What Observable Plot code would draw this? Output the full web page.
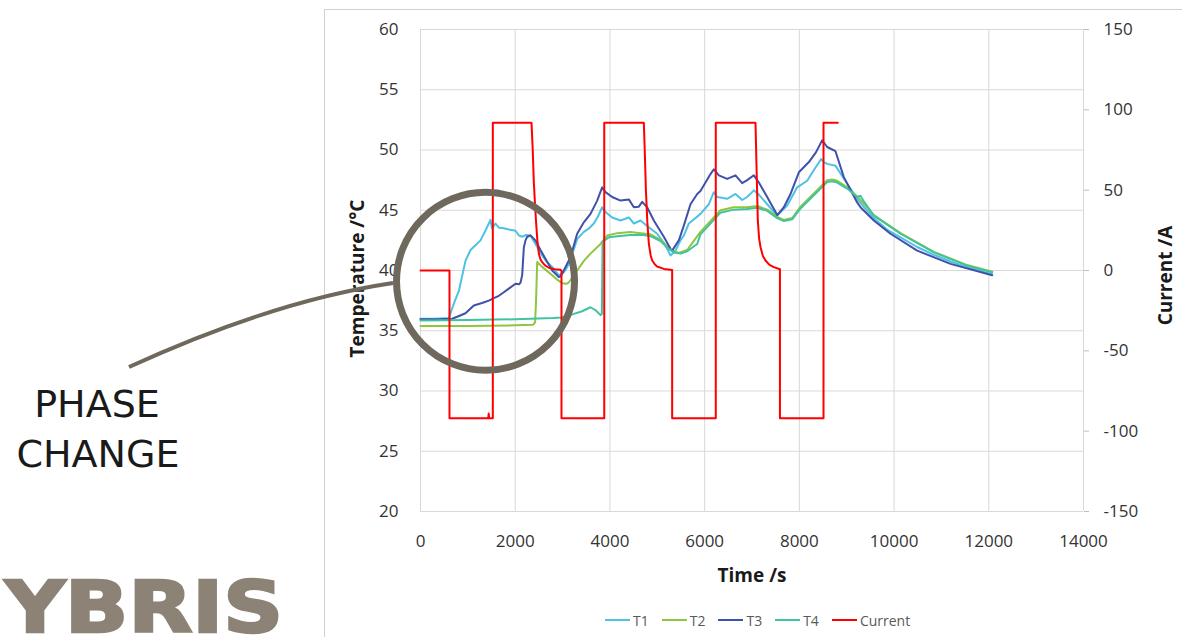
<!DOCTYPE html>
<html><head><meta charset="utf-8">
<script src="https://cdn.jsdelivr.net/npm/d3@7"></script>
<script src="https://cdn.jsdelivr.net/npm/@observablehq/plot@0.6"></script>
<style>
body{margin:0;background:#fff;}
#wrap{position:relative;width:1182px;height:637px;overflow:hidden;font-family:"Open Sans",sans-serif;background:#fff;}
#chart{position:absolute;left:0;top:0;}
#legend{position:absolute;left:605px;top:610px;height:20px;display:flex;align-items:center;font-size:14px;color:#595959;font-family:"Open Sans",sans-serif;}
.item{display:flex;align-items:center;margin-right:13px;}
.sw{width:25px;height:2.5px;margin-right:3px;}
#over{position:absolute;left:0;top:0;pointer-events:none;}
</style></head>
<body><div id="wrap"><div id="chart"></div><div id="legend"></div><svg id="over" width="1182" height="637"></svg></div>
<script>
// ---- data (time s, temperature °C) ----
const T1 = [[0,36.0],[300,36.0],[598,36.05],[700,37.2],[810,38.3],[950,40.8],[1056,41.7],[1160,42.1],[1267,42.5],[1370,43.3],[1478,44.2],[1510,43.5],[1548,43.7],[1584,43.9],[1654,43.55],[1760,43.5],[1865,43.4],[2006,43.3],[2080,42.9],[2147,42.8],[2230,42.95],[2323,42.9],[2428,42.2],[2569,41.25],[2670,40.7],[2781,40.3],[2921,39.6],[3026,39.85],[3100,40.3],[3167,40.8],[3240,41.8],[3308,42.6],[3449,43.2],[3560,43.5],[3660,43.9],[3750,44.5],[3836,45.25],[3906,44.85],[4048,44.4],[4223,44.15],[4399,44.4],[4505,43.9],[4646,44.15],[4786,43.7],[4998,43.05],[5173,42.1],[5279,41.25],[5385,41.65],[5490,42.5],[5560,42.9],[5666,43.9],[5912,44.7],[6089,45.5],[6194,46.5],[6265,46.1],[6476,45.95],[6652,46.35],[6793,45.85],[6898,46.1],[7039,46.65],[7145,46.3],[7321,45.5],[7532,44.55],[7743,45.4],[7954,46.9],[8166,47.45],[8300,48.3],[8460,49.25],[8517,49.0],[8587,48.85],[8763,48.7],[9010,47.2],[9221,45.95],[9400,45.1],[9573,44.35],[9850,43.4],[10136,42.75],[10488,41.95],[10840,41.3],[11192,40.75],[11544,40.25],[12072,39.7]];
const T2 = [[0,35.4],[1000,35.4],[2000,35.45],[2380,35.5],[2420,35.7],[2440,37.5],[2464,40.7],[2569,40.3],[2781,39.6],[2900,39.2],[2992,38.95],[3080,38.9],[3131,39.0],[3308,40.0],[3450,40.8],[3590,41.4],[3801,42.2],[3942,42.9],[4153,43.1],[4434,43.2],[4646,43.1],[4857,43.0],[5068,42.55],[5279,41.7],[5455,41.45],[5631,41.7],[5760,42.4],[5912,43.2],[6194,44.4],[6335,45.0],[6616,45.25],[6898,45.25],[7110,45.35],[7321,45.05],[7532,44.45],[7673,44.2],[7849,44.35],[8024,45.3],[8306,46.4],[8587,47.5],[8693,47.55],[8799,47.45],[9010,46.9],[9221,46.15],[9573,44.6],[10136,43.1],[10840,41.55],[11544,40.45],[12072,39.9]];
const T3 = [[0,35.95],[400,35.95],[669,36.0],[800,36.2],[950,36.45],[1126,37.1],[1300,37.3],[1443,37.5],[1548,37.7],[1654,37.9],[1760,38.2],[1865,38.5],[2006,38.9],[2080,38.85],[2112,39.0],[2147,39.6],[2182,41.9],[2217,42.5],[2253,42.8],[2323,42.9],[2428,42.5],[2534,41.7],[2650,40.9],[2781,40.0],[2921,39.45],[2956,39.5],[3026,40.0],[3167,41.1],[3308,43.05],[3449,44.0],[3590,44.7],[3731,45.8],[3836,46.9],[3906,46.5],[4048,46.1],[4223,45.8],[4399,45.9],[4505,45.25],[4610,45.3],[4681,45.7],[4786,45.25],[4927,44.15],[5138,42.8],[5279,41.8],[5314,41.65],[5455,42.5],[5550,43.6],[5701,45.5],[5843,46.35],[5912,46.6],[6124,48.0],[6194,48.4],[6300,47.9],[6476,47.6],[6652,47.9],[6793,47.25],[6898,47.5],[7039,47.9],[7145,47.3],[7321,46.1],[7532,44.6],[7673,45.25],[7814,46.35],[7990,48.15],[8201,49.0],[8350,49.8],[8481,50.8],[8587,50.25],[8763,49.9],[8939,47.75],[9221,45.65],[9291,45.25],[9573,44.15],[9925,43.05],[10488,41.65],[11192,40.55],[12072,39.6]];
const T4 = [[0,35.85],[1000,35.9],[2000,35.95],[2800,36.05],[2992,36.1],[3237,36.4],[3400,36.6],[3590,36.95],[3700,36.7],[3801,36.3],[3830,36.4],[3845,42.4],[3977,42.75],[4153,42.85],[4434,42.95],[4716,42.95],[4857,42.85],[5068,42.45],[5209,41.9],[5350,41.5],[5490,41.4],[5631,41.6],[5843,42.2],[5912,43.0],[6194,44.2],[6335,44.8],[6616,45.05],[6898,45.1],[7110,45.2],[7321,44.95],[7532,44.35],[7673,44.1],[7849,44.25],[8024,45.15],[8306,46.25],[8587,47.35],[8693,47.4],[8799,47.3],[9010,46.8],[9221,46.1],[9290,46.2],[9350,45.8],[9573,44.55],[10136,43.05],[10840,41.5],[11544,40.4],[12072,39.85]];
// current (time s, current A)
const current = [[0,0],[612,0],[612,-92],[1430,-92],[1440,-89],[1450,-92],[1527,-92],[1527,92],[2344,92],[2370,75],[2393,55],[2420,40],[2443,29],[2470,18],[2499,10.4],[2530,7.2],[2569,5.2],[2630,3.2],[2710,1.7],[2830,0.8],[2956,0.4],[2977,0],[2977,-92],[3880,-92],[3880,92],[4716,92],[4735,75],[4760,50],[4790,30],[4822,16.6],[4860,9.5],[4892,6.2],[4950,3.8],[4998,2.5],[5138,1.0],[5314,0.3],[5314,-92],[6235,-92],[6235,92],[7074,92],[7095,65],[7123,31],[7150,20],[7180,14.5],[7230,9],[7285,6.2],[7370,3.5],[7461,2.1],[7590,0.8],[7590,-92],[8510,-92],[8510,92],[8812,92]];

const timeTicks = [0,2000,4000,6000,8000,10000,12000,14000];
const tempTicks = [20,25,30,35,40,45,50,55,60];
const currentTicks = [-150,-100,-50,0,50,100,150];
const seriesNames = ["T1","T2","T3","T4","Current"];
const seriesColors = ["#4EC1E6","#8DC63F","#3F51A8","#42C2A0","#FF0000"];
const phaseMarker = [{t: 1373, temp: 39.1}];

// ---- chart ----
const toT = a => 40 + a * 20 / 150;
const rows = (arr, name) => arr.map(([t, v]) => ({t, v, name}));
const temps = [T1, T2, T3, T4];

const marks = [
  Plot.gridX(timeTicks, {stroke: "#d9d9d9", strokeOpacity: 1}),
  Plot.gridY(tempTicks, {stroke: "#d9d9d9", strokeOpacity: 1}),
  Plot.axisX(timeTicks, {tickSize: 0, tickPadding: 23, tickFormat: d => String(d), label: null, fill: "#333"}),
  Plot.axisY(tempTicks, {anchor: "left", tickSize: 0, tickPadding: 22, tickFormat: d => String(d), label: null, fill: "#333"}),
  Plot.axisY(currentTicks.map(toT), {anchor: "right", tickSize: 5, tickPadding: 15, stroke: "#bfbfbf", fill: "#333",
    tickFormat: t => String(Math.round((t - 40) * 7.5)), label: null})
];
temps.forEach((s, i) => {
  marks.push(Plot.line(rows(s, seriesNames[i]), {x: "t", y: "v", stroke: seriesColors[i], strokeWidth: 2}));
});
marks.push(Plot.line(rows(current, "Current"), {x: "t", y: d => toT(d.v), stroke: seriesColors[4], strokeWidth: 2}));
marks.push(Plot.dot(phaseMarker, {x: "t", y: "temp", r: 89, fill: "none", stroke: "#6f685d", strokeWidth: 7}));
marks.push(Plot.text(["Time /s"], {frameAnchor: "bottom", dy: 70, fontWeight: "bold", fontSize: 19, fill: "#1a1a1a"}));
marks.push(Plot.text(["Temperature /°C"], {frameAnchor: "left", textAnchor: "middle", dx: -63, dy: 8, rotate: -90, fontWeight: "bold", fontSize: 19, fill: "#1a1a1a"}));
marks.push(Plot.text(["Current /A"], {frameAnchor: "right", textAnchor: "middle", dx: 82, dy: 5, rotate: -90, fontWeight: "bold", fontSize: 19, fill: "#1a1a1a"}));

const chart = Plot.plot({
  width: 1182, height: 600,
  marginLeft: 420, marginRight: 99, marginTop: 29, marginBottom: 89,
  style: {fontFamily: "Open Sans", fontSize: "17px", color: "#333", background: "transparent", overflow: "visible"},
  x: {domain: [0, 14000]},
  y: {domain: [20, 60]},
  marks
});
document.getElementById("chart").appendChild(chart);

// ---- legend ----
const legend = document.getElementById("legend");
seriesNames.forEach((n, i) => {
  const it = document.createElement("div"); it.className = "item";
  const sw = document.createElement("div"); sw.className = "sw"; sw.style.background = seriesColors[i];
  const tx = document.createElement("span"); tx.textContent = n;
  it.appendChild(sw); it.appendChild(tx); legend.appendChild(it);
});

// ---- annotations (slide decoration) ----
const over = d3.select("#over");
over.append("rect").attr("x", 324.5).attr("y", 9.5).attr("width", 900).attr("height", 700)
  .attr("fill", "none").attr("stroke", "#d0d0d0").attr("stroke-width", 1);
over.append("path").attr("d", "M129,367 Q273,301 393,283").attr("fill", "none")
  .attr("stroke", "#6f685d").attr("stroke-width", 4);
const pc = over.append("text").attr("font-family", "DejaVu Sans").attr("font-size", 38)
  .attr("fill", "#1a1a1a").attr("text-anchor", "middle");
pc.append("tspan").attr("x", 97).attr("y", 417).text("PHASE");
pc.append("tspan").attr("x", 98).attr("y", 467).text("CHANGE");
over.append("text").attr("x", 5).attr("y", 632).attr("font-family", "DejaVu Sans").attr("font-weight", 900)
  .attr("font-size", 71).attr("textLength", 278).attr("lengthAdjust", "spacingAndGlyphs")
  .attr("fill", "#8c8275").attr("stroke", "#8c8275").attr("stroke-width", 2.5).text("YBRIS");
</script>
</body></html>
